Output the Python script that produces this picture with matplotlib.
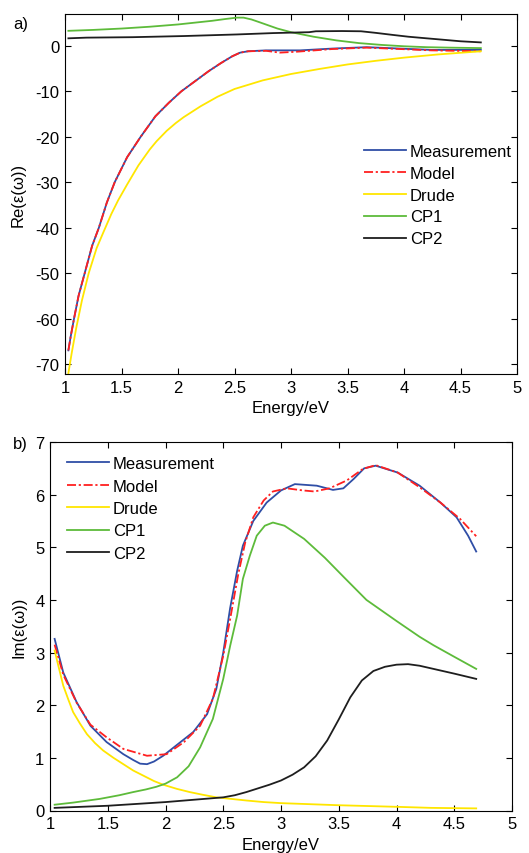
import matplotlib
matplotlib.use("Agg")
import matplotlib.pyplot as plt

plt.rcParams['font.family'] = ['Liberation Sans', 'DejaVu Sans']

# ---------------- data: panel a) Re(eps) ----------------
re_meas_E = [1.03, 1.05, 1.08, 1.12, 1.18, 1.24, 1.30, 1.37, 1.44, 1.55, 1.67, 1.80, 1.92, 2.03,
             2.15, 2.27, 2.38, 2.48, 2.55, 2.62, 2.78, 3.08, 3.37, 3.67, 3.96, 4.24, 4.68]
re_meas_v = [-67.0, -64.0, -60.0, -55.0, -49.5, -44.0, -40.0, -34.5, -30.0, -24.5, -20.0, -15.5, -12.5, -10.0,
             -7.8, -5.6, -3.8, -2.3, -1.5, -1.2, -1.0, -1.0, -0.6, -0.3, -0.6, -0.9, -0.9]
re_model_E = [1.03, 1.05, 1.08, 1.12, 1.18, 1.24, 1.30, 1.37, 1.44, 1.55, 1.67, 1.80, 1.92, 2.03,
              2.15, 2.27, 2.38, 2.48, 2.55, 2.62, 2.78, 2.90, 3.05, 3.37, 3.67, 3.96, 4.24, 4.68]
re_model_v = [-67.0, -64.0, -60.0, -55.0, -49.5, -44.0, -40.0, -34.5, -30.0, -24.5, -20.0, -15.5, -12.5, -10.0,
              -7.8, -5.6, -3.8, -2.3, -1.5, -1.2, -1.1, -1.5, -1.3, -0.7, -0.4, -0.7, -1.0, -1.2]
re_drude_E = [1.03, 1.06, 1.10, 1.15, 1.21, 1.28, 1.34, 1.41, 1.47, 1.55, 1.65, 1.75, 1.81, 1.90, 1.98,
              2.05, 2.2, 2.35, 2.5, 2.75, 3.0, 3.25, 3.5, 3.75, 4.0, 4.3, 4.68]
re_drude_v = [-72.0, -67.5, -62.0, -56.0, -50.0, -44.5, -41.0, -37.0, -34.0, -30.5, -26.3, -22.8, -21.0, -18.7, -17.0,
              -15.7, -13.3, -11.2, -9.5, -7.6, -6.2, -5.1, -4.1, -3.3, -2.6, -1.9, -1.2]
re_cp1_E = [1.03, 1.25, 1.5, 1.75, 2.0, 2.15, 2.3, 2.42, 2.52, 2.58, 2.65, 2.72, 2.80, 2.88, 3.0,
            3.2, 3.4, 3.6, 3.8, 4.0, 4.2, 4.4, 4.68]
re_cp1_v = [3.3, 3.5, 3.8, 4.2, 4.7, 5.1, 5.5, 5.9, 6.2, 6.2, 5.8, 5.2, 4.5, 3.8, 3.0,
            2.0, 1.2, 0.6, 0.2, -0.1, -0.3, -0.4, -0.5]
re_cp2_E = [1.03, 1.19, 1.6, 2.05, 2.52, 2.84, 3.16, 3.22, 3.45, 3.62, 3.75, 3.90, 4.04, 4.20, 4.34,
            4.50, 4.68]
re_cp2_v = [1.65, 1.8, 1.9, 2.15, 2.5, 2.8, 3.0, 3.2, 3.25, 3.2, 2.85, 2.4, 2.0, 1.65, 1.35,
            1.0, 0.75]

# ---------------- data: panel b) Im(eps) ----------------
im_meas_E = [1.04, 1.115, 1.23, 1.35, 1.49, 1.635, 1.72, 1.78, 1.84, 1.90, 1.98, 2.13, 2.24, 2.36, 2.44,
             2.50, 2.56, 2.62, 2.67, 2.76, 2.876, 3.0, 3.12, 3.31, 3.45, 3.54, 3.63, 3.72, 3.82, 4.01,
             4.20, 4.38, 4.52, 4.62, 4.69]
im_meas_v = [3.26, 2.62, 2.06, 1.61, 1.30, 1.07, 0.96, 0.89, 0.88, 0.93, 1.04, 1.30, 1.49, 1.83, 2.31,
             3.0, 3.85, 4.55, 5.03, 5.50, 5.85, 6.08, 6.20, 6.17, 6.09, 6.12, 6.30, 6.50, 6.55, 6.42,
             6.17, 5.85, 5.57, 5.22, 4.92]
im_model_E = [1.04, 1.115, 1.23, 1.35, 1.49, 1.635, 1.84, 2.01, 2.16, 2.30, 2.41, 2.50, 2.56, 2.63,
              2.69, 2.76, 2.85, 2.93, 3.05, 3.19, 3.29, 3.42, 3.57, 3.71, 3.82, 4.01, 4.20, 4.38,
              4.55, 4.69]
im_model_v = [3.15, 2.58, 2.05, 1.63, 1.39, 1.17, 1.04, 1.07, 1.30, 1.61, 2.12, 2.94, 3.64, 4.49,
              5.09, 5.57, 5.89, 6.06, 6.12, 6.08, 6.06, 6.12, 6.27, 6.49, 6.56, 6.42, 6.14, 5.85,
              5.54, 5.21]
im_drude_E = [1.04, 1.08, 1.115, 1.16, 1.20, 1.26, 1.32, 1.39, 1.46, 1.55, 1.635, 1.72, 1.81, 1.90,
              1.98, 2.1, 2.21, 2.32, 2.44, 2.57, 2.70, 2.85, 3.0, 3.25, 3.5, 4.0, 4.3, 4.69]
im_drude_v = [3.04, 2.68, 2.37, 2.10, 1.87, 1.65, 1.45, 1.28, 1.14, 1.00, 0.88, 0.76, 0.66, 0.56,
              0.49, 0.41, 0.35, 0.30, 0.25, 0.22, 0.19, 0.16, 0.14, 0.12, 0.10, 0.07, 0.05, 0.04]
im_cp1_E = [1.04, 1.2, 1.43, 1.6, 1.72, 1.83, 1.92, 2.0, 2.1, 2.2, 2.3, 2.41, 2.50, 2.56, 2.62, 2.67,
            2.73, 2.79, 2.86, 2.93, 3.03, 3.20, 3.38, 3.55, 3.74, 4.00, 4.20, 4.32, 4.50, 4.69]
im_cp1_v = [0.11, 0.15, 0.22, 0.29, 0.35, 0.40, 0.45, 0.51, 0.63, 0.84, 1.20, 1.74, 2.50, 3.13, 3.70, 4.40,
            4.84, 5.22, 5.41, 5.47, 5.41, 5.16, 4.80, 4.42, 4.00, 3.60, 3.30, 3.14, 2.92, 2.69]
im_cp2_E = [1.04, 1.5, 2.0, 2.5, 2.6, 2.7, 2.8, 2.9, 3.0, 3.1, 3.2, 3.3, 3.4, 3.5, 3.6, 3.7, 3.8,
            3.9, 4.0, 4.1, 4.2, 4.3, 4.5, 4.69]
im_cp2_v = [0.05, 0.09, 0.16, 0.25, 0.29, 0.35, 0.42, 0.49, 0.57, 0.68, 0.82, 1.03, 1.33, 1.73, 2.15, 2.47, 2.65,
            2.73, 2.77, 2.78, 2.75, 2.70, 2.60, 2.50]

labels = ['Measurement', 'Model', 'Drude', 'CP1', 'CP2']
x_ticks = [1, 1.5, 2, 2.5, 3, 3.5, 4, 4.5, 5]
x_ticklabels = ['1', '1.5', '2', '2.5', '3', '3.5', '4', '4.5', '5']
re_yticks = [0, -10, -20, -30, -40, -50, -60, -70]
im_yticks = [0, 1, 2, 3, 4, 5, 6, 7]

C_MEAS = '#2f4ea6'
C_MODEL = '#ff2020'
C_DRUDE = '#ffe600'
C_CP1 = '#5dbb3a'
C_CP2 = '#1e1e1e'
LW = 1.3
FS = 12

W, H = 529, 854
fig = plt.figure(figsize=(W / 100, H / 100), dpi=100)

def px_axes(l, t, r, b):
    return fig.add_axes([l / W, 1 - b / H, (r - l) / W, (b - t) / H])

def style(ax):
    ax.tick_params(direction='in', top=True, right=True, length=4, width=0.8,
                   labelsize=FS, pad=4)
    for s in ax.spines.values():
        s.set_linewidth(0.8)
    ax.set_xlim(1, 5)
    ax.set_xticks(x_ticks)
    ax.set_xticklabels(x_ticklabels)

def draw(ax, series):
    (mE, mv), (oE, ov), (dE, dv), (c1E, c1v), (c2E, c2v) = series
    h1, = ax.plot(mE, mv, color=C_MEAS, lw=LW)
    h2, = ax.plot(oE, ov, color=C_MODEL, lw=LW, ls=(0, (5, 1.5, 1.2, 1.5)))
    h3, = ax.plot(dE, dv, color=C_DRUDE, lw=LW)
    h4, = ax.plot(c1E, c1v, color=C_CP1, lw=LW)
    h5, = ax.plot(c2E, c2v, color=C_CP2, lw=LW)
    return [h1, h2, h3, h4, h5]

# ---- panel a ----
ax1 = px_axes(65, 15, 517, 375)
style(ax1)
hs = draw(ax1, [(re_meas_E, re_meas_v), (re_model_E, re_model_v), (re_drude_E, re_drude_v),
                (re_cp1_E, re_cp1_v), (re_cp2_E, re_cp2_v)])
ax1.set_ylim(-72.2, 7)
ax1.set_yticks(re_yticks)
ax1.set_yticklabels([str(v) for v in re_yticks])
ax1.set_xlabel('Energy/eV', fontsize=FS, labelpad=4)
ax1.set_ylabel('Re(ε(ω))', fontsize=FS)
ax1.yaxis.set_label_coords((26 - 65) / 452, 0.5)
ax1.legend(hs, labels, loc='upper left', bbox_to_anchor=(364 / W, 1 - 145 / H),
           bbox_transform=fig.transFigure, frameon=False, fontsize=FS,
           handlelength=2.5, handletextpad=0.25, labelspacing=0.41, borderpad=0, borderaxespad=0)
fig.text(13 / W, 1 - 24 / H, 'a)', fontsize=FS, va='center', ha='left')

# ---- panel b ----
ax2 = px_axes(50, 443, 512, 811.5)
style(ax2)
hs = draw(ax2, [(im_meas_E, im_meas_v), (im_model_E, im_model_v), (im_drude_E, im_drude_v),
                (im_cp1_E, im_cp1_v), (im_cp2_E, im_cp2_v)])
ax2.set_ylim(0, 7)
ax2.set_yticks(im_yticks)
ax2.set_yticklabels([str(v) for v in im_yticks])
ax2.set_xlabel('Energy/eV', fontsize=FS, labelpad=4)
ax2.set_ylabel('Im(ε(ω))', fontsize=FS)
ax2.yaxis.set_label_coords((26 - 50) / 462, 0.5)
ax2.legend(hs, labels, loc='upper left', bbox_to_anchor=(67 / W, 1 - 457 / H),
           bbox_transform=fig.transFigure, frameon=False, fontsize=FS,
           handlelength=2.5, handletextpad=0.25, labelspacing=0.45, borderpad=0, borderaxespad=0)
fig.text(13 / W, 1 - 445 / H, 'b)', fontsize=FS, va='center', ha='left')

fig.savefig('out.png', dpi=100)
